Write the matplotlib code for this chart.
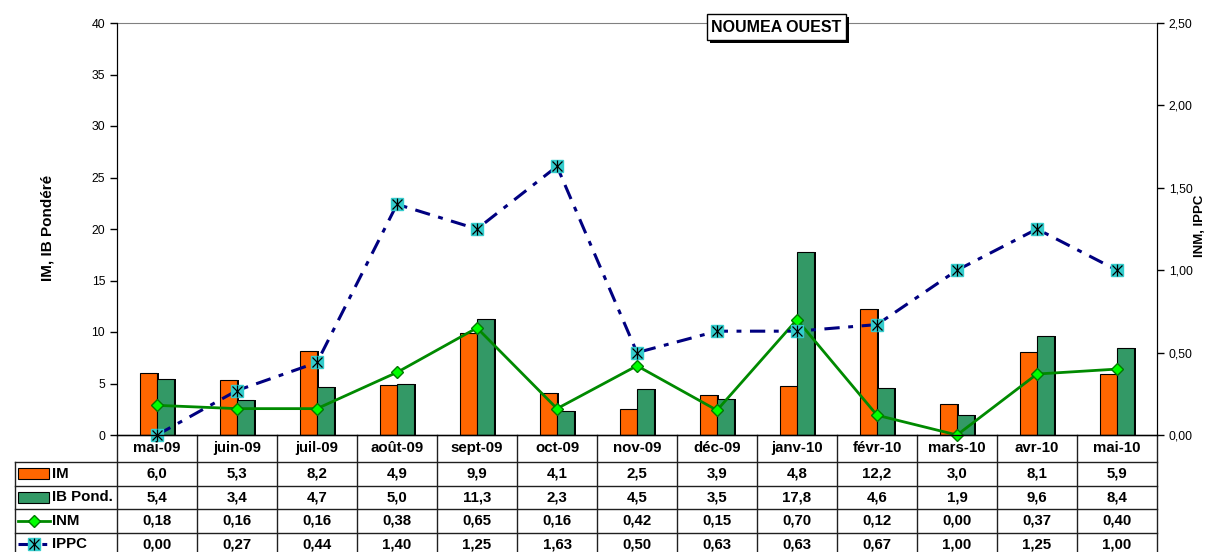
import matplotlib
matplotlib.use("Agg")
import matplotlib.pyplot as plt
import numpy as np
from matplotlib.patches import Rectangle
from matplotlib.ticker import FuncFormatter

plt.rcParams['font.family'] = ['Liberation Sans', 'DejaVu Sans']

mois = ["mai-09", "juin-09", "juil-09", "août-09", "sept-09", "oct-09", "nov-09",
        "déc-09", "janv-10", "févr-10", "mars-10", "avr-10", "mai-10"]
im = [6.0, 5.3, 8.2, 4.9, 9.9, 4.1, 2.5, 3.9, 4.8, 12.2, 3.0, 8.1, 5.9]
ib_pond = [5.4, 3.4, 4.7, 5.0, 11.3, 2.3, 4.5, 3.5, 17.8, 4.6, 1.9, 9.6, 8.4]
inm = [0.18, 0.16, 0.16, 0.38, 0.65, 0.16, 0.42, 0.15, 0.70, 0.12, 0.00, 0.37, 0.40]
ippc = [0.00, 0.27, 0.44, 1.40, 1.25, 1.63, 0.50, 0.63, 0.63, 0.67, 1.00, 1.25, 1.00]

W, H = 1209, 552
x0, x1, ytop, ybot = 117, 1157, 23, 435
fs = 10.8

fig = plt.figure(figsize=(W / 100, H / 100), dpi=100)
ax = fig.add_axes([x0 / W, (H - ybot) / H, (x1 - x0) / W, (ybot - ytop) / H])

x = np.arange(len(mois))
bw = 0.21
sh = 0.025  # small shadow to the right of bars
ax.bar(x - bw / 2 + sh, im, bw, color="black", linewidth=0, zorder=1.5)
ax.bar(x + bw / 2 + sh, ib_pond, bw, color="black", linewidth=0, zorder=1.5)
ax.bar(x - bw / 2, im, bw, color="#FF6600", edgecolor="black", linewidth=0.8, zorder=2)
ax.bar(x + bw / 2, ib_pond, bw, color="#339966", edgecolor="black", linewidth=0.8, zorder=2)
ax.set_xlim(-0.5, len(mois) - 0.5)
ax.set_ylim(0, 40)
ax.set_yticks(range(0, 41, 5))
ax.set_xticks([])
ax.tick_params(axis='y', direction='out', length=5, labelsize=8.8, width=1)
for s in ["left", "bottom"]:
    ax.spines[s].set_color("black")
ax.spines["top"].set_color("#808080")
ax.spines["top"].set_linewidth(0.8)

ax2 = ax.twinx()
ax2.set_ylim(0, 2.5)
ax2.set_yticks(np.arange(0, 2.51, 0.5))
ax2.yaxis.set_major_formatter(FuncFormatter(lambda v, p: f"{v:.2f}".replace(".", ",")))
ax2.tick_params(axis='y', direction='out', length=5, labelsize=8.8, width=1)
ax2.spines["top"].set_visible(False)
ax2.spines["right"].set_color("black")

ax2.plot(x, inm, color="#008A00", lw=2, marker="D", markersize=6.5,
         markerfacecolor="#00FF00", markeredgecolor="#007A00", clip_on=False, zorder=3)
ax2.plot(x, ippc, color="#000080", lw=2.2, linestyle=(0, (5, 2.8, 1.6, 2.8)), zorder=3)
ax2.plot(x, ippc, linestyle="none", marker="s", markersize=8.5, markerfacecolor="#33CCCC",
         markeredgecolor="#33CCCC", clip_on=False, zorder=4)
ax2.plot(x, ippc, linestyle="none", marker="x", markersize=7, markeredgecolor="black",
         markeredgewidth=0.9, clip_on=False, zorder=5)
ax2.plot(x, ippc, linestyle="none", marker="|", markersize=9, markeredgecolor="black",
         markeredgewidth=0.9, clip_on=False, zorder=5)

# overlay in pixel coordinates for the data table and title box
ov = fig.add_axes([0, 0, 1, 1])
ov.set_xlim(0, W)
ov.set_ylim(H, 0)
ov.axis("off")
ov.patch.set_alpha(0)

fig.text(47 / W, 1 - 228 / H, "IM, IB Pondéré", rotation=90, ha="center", va="center",
         fontsize=11, fontweight="bold")
fig.text(1200 / W, 1 - 226 / H, "INM, IPPC", rotation=90, ha="center", va="center",
         fontsize=9.5, fontweight="bold")

# title box with shadow
ov.add_patch(Rectangle((710, 17), 139, 26, facecolor="black", edgecolor="none"))
ov.add_patch(Rectangle((707, 14), 139, 26, facecolor="white", edgecolor="black", lw=1))
ov.text(776.5, 28, "NOUMEA OUEST", ha="center", va="center", fontsize=11.5, fontweight="bold")

cw = (x1 - x0) / len(mois)
rows = [462, 485.5, 509, 532.5, 556]
lc = "#202020"
for i in range(len(mois) + 1):
    ov.plot([x0 + i * cw] * 2, [ybot, rows[-1]], color=lc, lw=1)
ov.plot([15, 15], [rows[0], rows[-1]], color=lc, lw=1)
for r in rows:
    ov.plot([15, x1], [r, r], color=lc, lw=1)
ov.plot([x0, x1], [ybot, ybot], color="black", lw=1)

for i, m in enumerate(mois):
    ov.text(x0 + (i + 0.5) * cw, 448, m, ha="center", va="center", fontsize=fs, fontweight="bold")

series = [
    ("IM", [f"{v:.1f}".replace(".", ",") for v in im]),
    ("IB Pond.", [f"{v:.1f}".replace(".", ",") for v in ib_pond]),
    ("INM", [f"{v:.2f}".replace(".", ",") for v in inm]),
    ("IPPC", [f"{v:.2f}".replace(".", ",") for v in ippc]),
]
for k, (name, vals) in enumerate(series):
    yc = (rows[k] + rows[k + 1]) / 2
    ov.text(52, yc, name, ha="left", va="center", fontsize=fs, fontweight="bold")
    for i, t in enumerate(vals):
        ov.text(x0 + (i + 0.5) * cw, yc, t, ha="center", va="center", fontsize=fs, fontweight="bold")

# legend keys
yk = [(rows[k] + rows[k + 1]) / 2 for k in range(4)]
ov.add_patch(Rectangle((18, yk[0] - 5.5), 31, 11, facecolor="#FF6600", edgecolor="black", lw=0.8))
ov.add_patch(Rectangle((18, yk[1] - 5.5), 31, 11, facecolor="#339966", edgecolor="black", lw=0.8))
ov.plot([18, 50], [yk[2]] * 2, color="#008A00", lw=2)
ov.plot([34], [yk[2]], marker="D", markersize=6.5, markerfacecolor="#00FF00", markeredgecolor="#007A00")
ov.plot([18, 50], [yk[3]] * 2, color="#000080", lw=2.2, linestyle=(0, (5, 2.8, 1.6, 2.8)))
ov.plot([34], [yk[3]], marker="s", markersize=8.5, markerfacecolor="#33CCCC", markeredgecolor="#33CCCC")
ov.plot([34], [yk[3]], marker="x", markersize=7, markeredgecolor="black", markeredgewidth=0.9)
ov.plot([34], [yk[3]], marker="|", markersize=9, markeredgecolor="black", markeredgewidth=0.9)

fig.savefig("out.png", dpi=100)
